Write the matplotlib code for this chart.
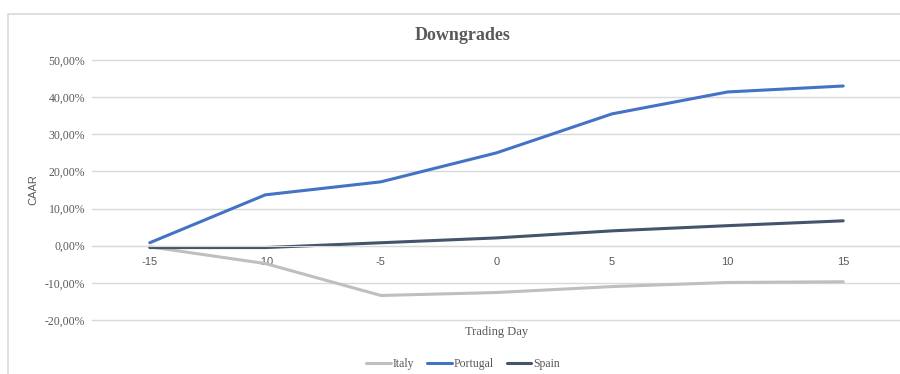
#!/usr/bin/env python3
"""Downgrades: CAAR by trading day for Italy, Portugal and Spain."""

import matplotlib
matplotlib.use("Agg")
import matplotlib.pyplot as plt
from matplotlib.patches import Rectangle
from matplotlib.ticker import FuncFormatter

# === DATA ===
TRADING_DAYS = [-15, -10, -5, 0, 5, 10, 15]
ITALY = [-0.003, -0.048, -0.134, -0.126, -0.110, -0.099, -0.097]
PORTUGAL = [0.008, 0.137, 0.172, 0.250, 0.355, 0.414, 0.430]
SPAIN = [-0.005, -0.005, 0.008, 0.021, 0.040, 0.054, 0.067]
Y_TICKS = [-0.2, -0.1, 0.0, 0.1, 0.2, 0.3, 0.4, 0.5]

TEXT_GREY = "#595959"
GRID_GREY = "#d9d9d9"


def pct_comma(v, _pos):
    return f"{v * 100:.2f}%".replace(".", ",")


def main():
    fig = plt.figure(figsize=(9, 3.74), dpi=100)

    # chart frame (cut off on the right and bottom like the screenshot)
    fig.patches.append(Rectangle((8 / 900, -0.05), 1.2, 1 - 14 / 374 + 0.05,
                                 transform=fig.transFigure, fill=False,
                                 edgecolor=GRID_GREY, linewidth=1.2))

    ax = fig.add_axes([92 / 900, 1 - 320 / 374, 809 / 900, 260 / 374])

    ax.plot(TRADING_DAYS, ITALY, color="#bfbfbf", linewidth=2.2, label="Italy",
            solid_capstyle="round")
    ax.plot(TRADING_DAYS, PORTUGAL, color="#4472c4", linewidth=2.2, label="Portugal",
            solid_capstyle="round")
    ax.plot(TRADING_DAYS, SPAIN, color="#44546a", linewidth=2.2, label="Spain",
            solid_capstyle="round")

    ax.set_xlim(-17.5, 17.5)
    ax.set_ylim(-0.2, 0.5)
    ax.set_yticks(Y_TICKS)
    ax.yaxis.set_major_formatter(FuncFormatter(pct_comma))
    ax.set_xticks(TRADING_DAYS)
    ax.set_xticklabels([str(d) for d in TRADING_DAYS])

    ax.grid(axis="y", color=GRID_GREY, linewidth=1.0)
    for gl in ax.get_ygridlines():
        gl.set_clip_on(False)
    ax.set_axisbelow(True)
    for side in ("top", "right", "left"):
        ax.spines[side].set_visible(False)
    ax.spines["bottom"].set_position(("data", 0))
    ax.spines["bottom"].set_color(GRID_GREY)

    ax.tick_params(axis="both", length=0)
    ax.tick_params(axis="x", pad=8, labelsize=8, labelcolor=TEXT_GREY)
    ax.tick_params(axis="y", pad=5, labelsize=8.5, labelcolor=TEXT_GREY)
    for lbl in ax.get_yticklabels():
        lbl.set_family("Liberation Serif")
    for lbl in ax.get_xticklabels():
        lbl.set_family("Liberation Sans")

    fig.text(33 / 900, 1 - 190 / 374, "CAAR", rotation=90, ha="center", va="center",
             fontsize=8, color=TEXT_GREY, family="Liberation Sans")
    fig.text(497 / 900, 1 - 332 / 374, "Trading Day", ha="center", va="center",
             fontsize=9, color=TEXT_GREY, family="Liberation Serif")
    fig.text(463 / 900, 1 - 35 / 374, "Downgrades", ha="center", va="center",
             fontsize=13, fontweight="bold", color=TEXT_GREY, family="Liberation Serif")

    leg = fig.legend(loc="center", bbox_to_anchor=(463 / 900, 1 - 364 / 374), ncol=3,
                     frameon=False, handlelength=2.1, handletextpad=0.15,
                     columnspacing=1.1, prop={"family": "Liberation Serif", "size": 8.5})
    for txt in leg.get_texts():
        txt.set_color(TEXT_GREY)

    fig.savefig("out.png", dpi=100)
    plt.close(fig)


if __name__ == "__main__":
    main()
